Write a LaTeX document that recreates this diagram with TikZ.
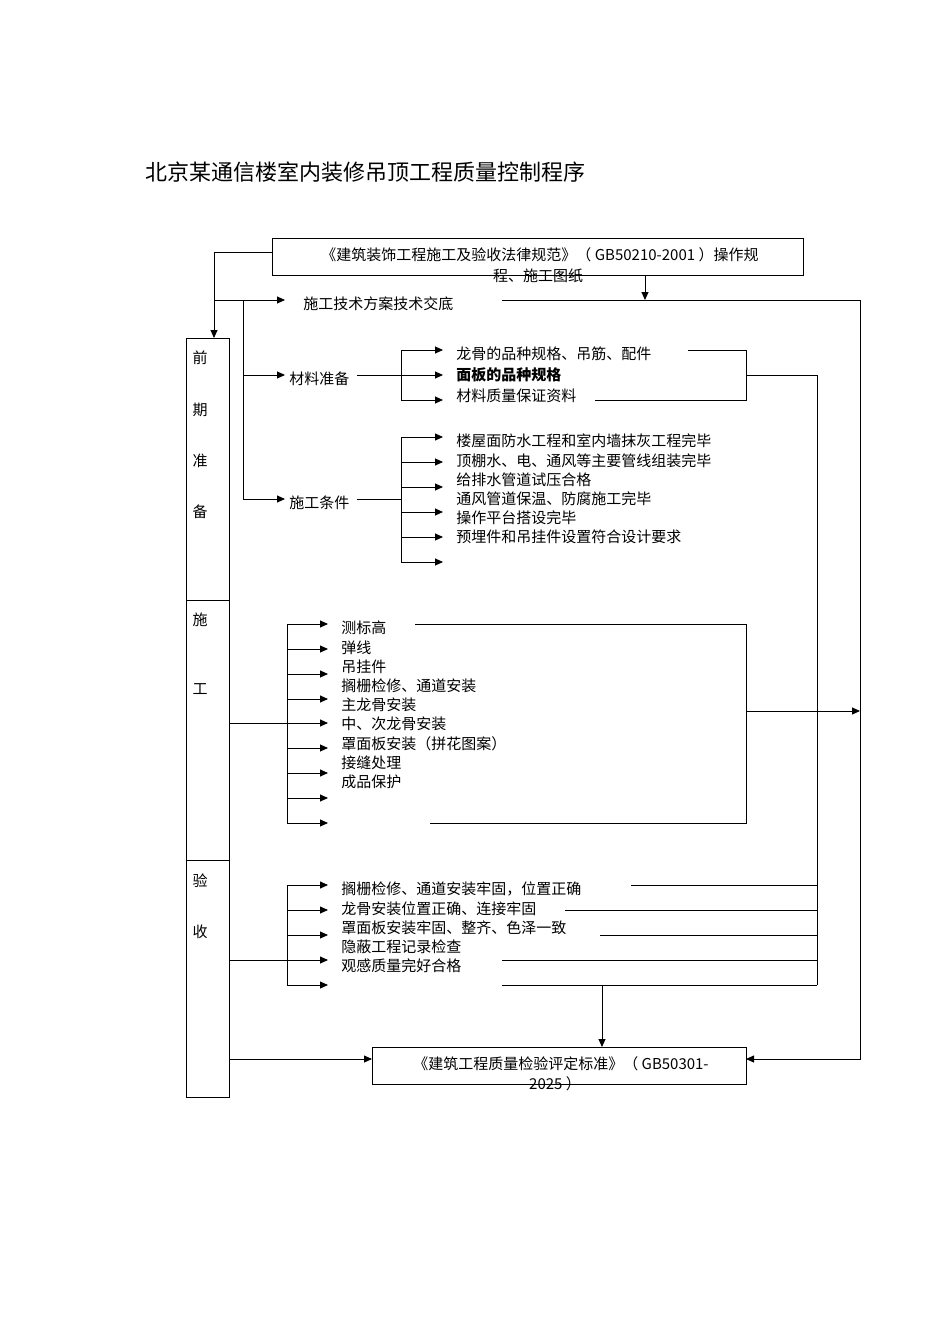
\documentclass[tikz,border=0pt]{standalone}
\usepackage{fontspec}
\setmainfont{Noto Sans CJK SC}
\usetikzlibrary{arrows.meta}
\begin{document}
\begin{tikzpicture}[x=1pt,y=-1pt,line width=0.9pt,
  lbl/.style={anchor=west,inner sep=0pt,font=\fontsize{15}{15}\selectfont},
  arr/.style={-{Triangle[length=8pt,width=7pt]}},
  bx/.style={draw,line width=0.9pt}]
\useasboundingbox (0,0) rectangle (950,1344);
\node[anchor=west,inner sep=0pt,font=\fontsize{22}{22}\selectfont] (title) at (145,172) {北京某通信楼室内装修吊顶工程质量控制程序};
% top box
\draw[bx] (272,238) rectangle (803,275);
\coordinate (topL) at (272,252);
\node[font=\fontsize{15}{15}\selectfont,inner sep=0pt] (topt1) at (540,255) {《建筑装饰工程施工及验收法律规范》（ GB50210-2001 ）操作规};
\node[font=\fontsize{15}{15}\selectfont,inner sep=0pt] (topt2) at (538,276) {程、施工图纸};
% column
\draw[bx] (186,338) rectangle (229,1097);
\draw (186,600) -- (229,600);
\draw (186,860) -- (229,860);
\foreach \t/\y in {前/358,期/410,准/461,备/512,施/620,工/689,验/881,收/932}
  \node[font=\fontsize{15}{15}\selectfont,inner sep=0pt] at (200,\y) {\t};
\draw[arr] (topL) -- (214,252) -- (214,338);
\draw[arr] (214,300) -- (285,300);
\node[lbl] (jd) at (303,304) {施工技术方案技术交底};
\draw[arr] (645,275) -- (645,300);
\draw[arr] (502,300) -- (860,300) -- (860,1059) -- (746,1059);
\draw (243,300) -- (243,499);
\draw[arr] (243,375) -- (285,375);
\node[lbl] (cl) at (289,379) {材料准备};
\draw[arr] (243,499) -- (285,499);
\node[lbl] (tj) at (289,503) {施工条件};
% materials
\draw (357,375) -- (401,375);
\draw (401,350) -- (401,400);
\foreach \y in {350,375,400} \draw[arr] (401,\y) -- (443,\y);
\node[lbl] at (456,354) {龙骨的品种规格、吊筋、配件};
\node[lbl] at (456,375) {\bfseries 面板的品种规格};
\node[lbl] at (456,396) {材料质量保证资料};
\draw (688,350) -- (746,350) -- (746,400) -- (595,400);
\draw (746,375) -- (817,375) -- (817,985);
% conditions
\draw (357,499) -- (401,499);
\draw (401,437) -- (401,562);
\foreach \y in {437,462,487,512,537,562} \draw[arr] (401,\y) -- (443,\y);
\node[lbl] at (456,441) {楼屋面防水工程和室内墙抹灰工程完毕};
\node[lbl] at (456,461) {顶棚水、电、通风等主要管线组装完毕};
\node[lbl] at (456,480) {给排水管道试压合格};
\node[lbl] at (456,499) {通风管道保温、防腐施工完毕};
\node[lbl] at (456,518) {操作平台搭设完毕};
\node[lbl] at (456,537) {预埋件和吊挂件设置符合设计要求};
% construction
\draw (229,723) -- (287,723);
\draw (287,624) -- (287,823);
\foreach \y in {624,649,674,699,723,748,773,798,823} \draw[arr] (287,\y) -- (328,\y);
\foreach \t/\y in {测标高/628,弹线/648,吊挂件/667,搁栅检修、通道安装/686,主龙骨安装/705,中、次龙骨安装/724,罩面板安装（拼花图案）/744,接缝处理/763,成品保护/782}
  \node[lbl] at (341,\y) {\t};
\draw (415,624) -- (746,624) -- (746,823) -- (430,823);
\draw[arr] (746,711) -- (860,711);
% acceptance
\draw (229,960) -- (287,960);
\draw (287,885) -- (287,985);
\foreach \y in {885,910,935,960,985} \draw[arr] (287,\y) -- (328,\y);
\foreach \t/\y in {搁栅检修、通道安装牢固，位置正确/889,龙骨安装位置正确、连接牢固/909,罩面板安装牢固、整齐、色泽一致/928,隐蔽工程记录检查/947,观感质量完好合格/966}
  \node[lbl] at (341,\y) {\t};
\draw (631,885) -- (817,885);
\draw (565,910) -- (817,910);
\draw (600,935) -- (817,935);
\draw (502,960) -- (817,960);
\draw (502,985) -- (817,985);
\draw[arr] (602,985) -- (602,1047);
% bottom box
\draw[bx] (372,1047) rectangle (746,1084);
\draw[arr] (229,1059) -- (372,1059);
\node[font=\fontsize{15}{15}\selectfont,inner sep=0pt] at (561,1064) {《建筑工程质量检验评定标准》（ GB50301-};
\node[font=\fontsize{15}{15}\selectfont,inner sep=0pt] at (555,1084) {2025 ）};
\end{tikzpicture}
\end{document}
